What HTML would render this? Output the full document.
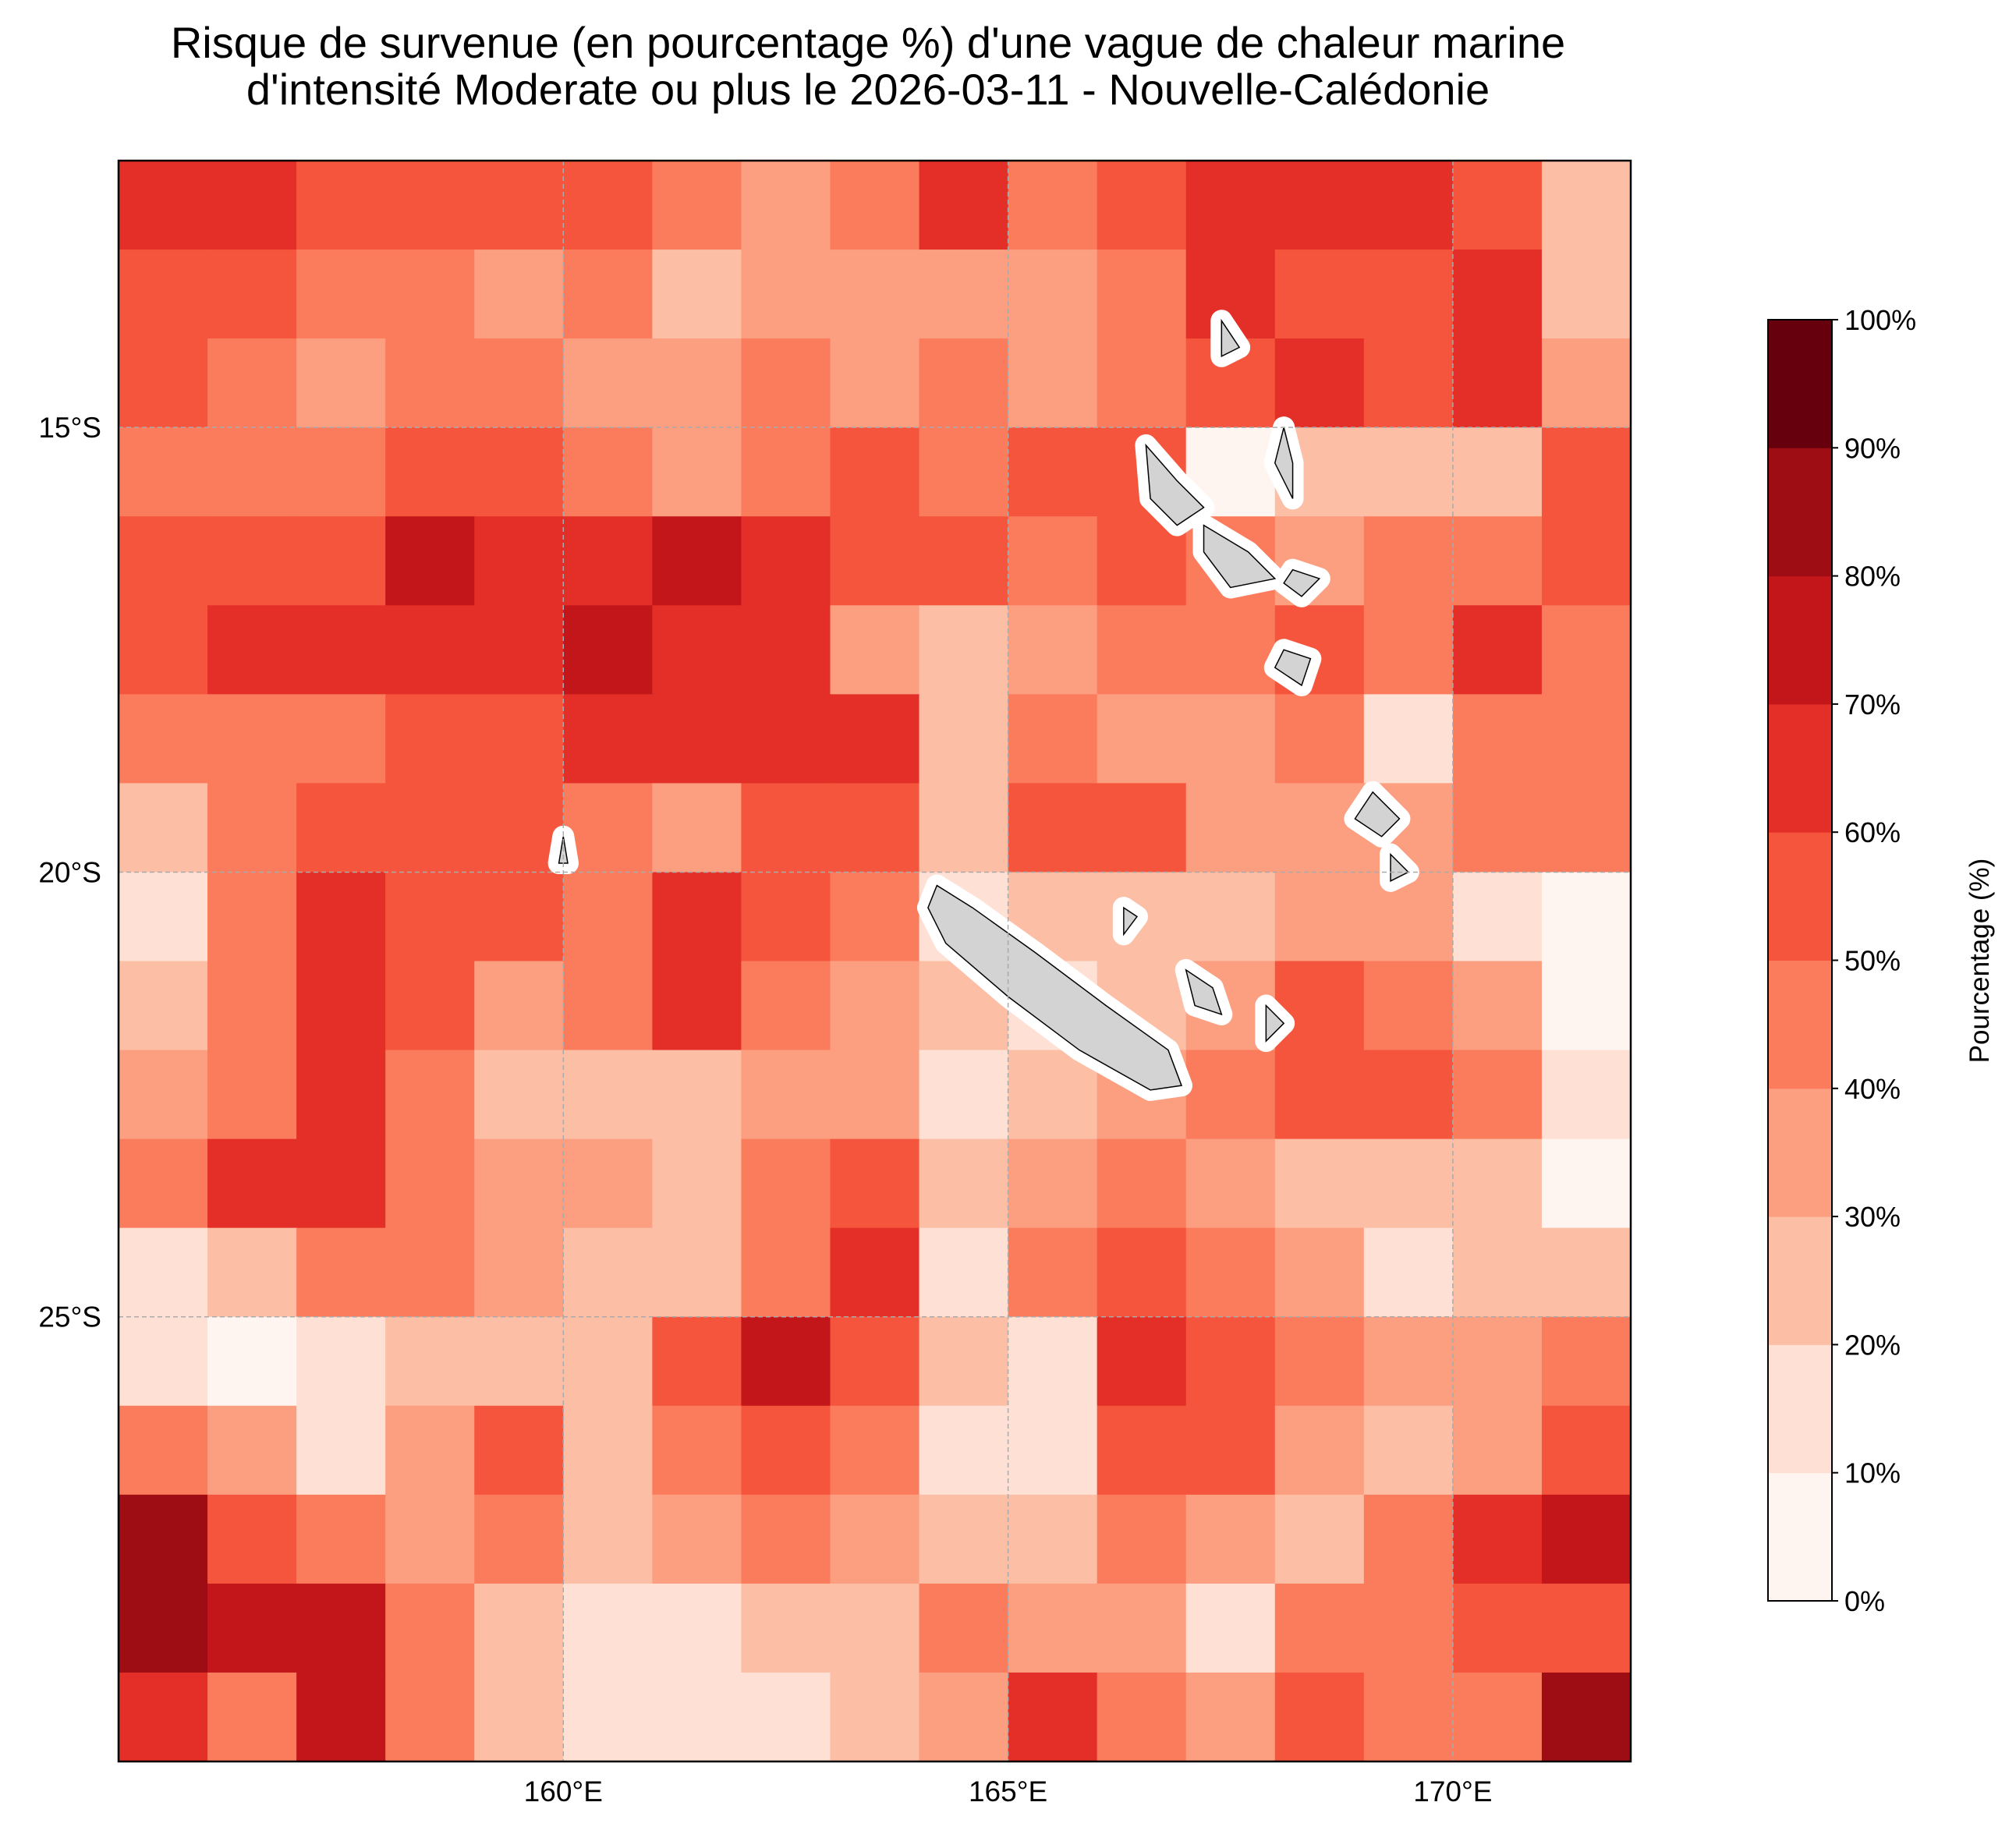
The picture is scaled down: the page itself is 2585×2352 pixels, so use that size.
<!DOCTYPE html>
<html><head><meta charset="utf-8"><style>
html,body{margin:0;padding:0;background:#fff;}
svg{display:block;font-family:"Liberation Sans","DejaVu Sans",sans-serif;}
</style></head><body>
<svg id="chart" width="2585" height="2352" viewBox="0 0 2585 2352">
<text x="1113" y="74" font-size="56" text-anchor="middle">Risque de survenue (en pourcentage %) d'une vague de chaleur marine</text>
<text x="1113" y="134" font-size="56" text-anchor="middle">d'intensité Moderate ou plus le 2026-03-11 - Nouvelle-Calédonie</text>
<g id="cells"></g>
<g id="land"></g>
<g id="grid"></g>
<rect x="152" y="206" width="1939" height="2053" fill="none" stroke="#000" stroke-width="2.5"/>
<g id="ticks"></g>
<g id="cbar"></g>
<text x="2550" y="1232" font-size="35" text-anchor="middle" transform="rotate(-90 2550 1232)">Pourcentage (%)</text>
</svg>
<script>
const lonMin=155, lonMax=172, latMin=12, latMax=30;
const lonTicks=[160,165,170];
const latTicks=[15,20,25];
const cbarTicks=[0,10,20,30,40,50,60,70,80,90,100];
const levelColors=["#fff5f0","#fee1d4","#fcbea5","#fc9e80","#fb7c5c","#f5553c","#e32f27","#c2161b","#9e0d14","#67000d"];
// risk percentages on 1-degree grid, rows from 12°S southward, cols from 155°E eastward
const riskRows=[
[65,60,55,50,55,55,45,35,40,60,45,55,60,65,65,55,20],
[55,55,45,40,35,40,25,30,35,35,35,45,60,55,55,65,20],
[50,45,35,40,45,30,35,40,35,40,35,40,55,60,55,60,30],
[45,40,40,55,50,40,35,45,50,45,50,55,5,25,20,25,55],
[50,55,55,70,65,60,70,60,55,55,45,55,45,35,45,40,50],
[55,60,60,65,65,70,65,60,35,25,30,40,45,55,45,65,40],
[45,45,40,50,55,60,60,60,65,25,40,35,35,45,15,40,45],
[20,40,55,55,50,45,35,50,50,25,50,55,30,30,30,40,45],
[15,40,60,55,55,45,60,55,40,10,25,25,20,35,35,10,0],
[20,40,65,50,35,40,60,45,35,20,10,25,30,50,40,30,0],
[35,45,60,40,25,20,25,35,30,15,20,35,40,50,50,45,15],
[40,60,60,45,35,30,25,45,55,20,30,40,35,20,25,20,5],
[15,25,40,45,35,25,20,40,60,15,45,50,40,30,15,25,20],
[10,5,15,25,25,20,55,70,55,20,15,60,55,40,30,35,40],
[40,35,15,30,50,25,45,55,40,10,10,55,50,30,20,35,55],
[80,55,40,35,45,20,30,45,30,25,25,40,35,25,40,60,70],
[80,70,70,40,25,10,15,25,25,40,35,30,15,40,45,55,55],
[60,40,75,40,20,10,10,15,25,35,60,45,35,55,45,40,80]
];
const X0=152,X1=2091,Y0=206,Y1=2259;
const xS=lon=>X0+(lon-lonMin)/(lonMax-lonMin)*(X1-X0);
const yS=lat=>Y0+(lat-latMin)/(latMax-latMin)*(Y1-Y0);
const NS="http://www.w3.org/2000/svg";
function mk(tag,attrs,parent){const e=document.createElementNS(NS,tag);for(const k in attrs)e.setAttribute(k,attrs[k]);parent.appendChild(e);return e;}
const cells=document.getElementById('cells');
riskRows.forEach((row,j)=>row.forEach((v,i)=>{
  const lvl=Math.min(9,Math.floor(v/10));
  const r=mk('rect',{x:xS(lonMin+i),y:yS(latMin+j),width:xS(lonMin+i+1)-xS(lonMin+i)+0.6,height:yS(latMin+j+1)-yS(latMin+j)+0.6,fill:levelColors[lvl]},cells);
  
  
}));
const land=document.getElementById('land');
const islands=[
 [[164.2,20.15],[164.6,20.4],[165.3,20.9],[166.1,21.5],[166.8,22.0],[166.95,22.4],[166.6,22.45],[165.8,22.0],[165.0,21.4],[164.3,20.8],[164.1,20.4]],
 [[166.55,15.2],[166.9,15.6],[167.2,15.9],[166.9,16.1],[166.6,15.8]],
 [[167.2,16.1],[167.7,16.4],[168.0,16.7],[167.5,16.8],[167.2,16.4]],
 [[168.1,15.0],[168.2,15.4],[168.2,15.8],[168.0,15.4]],
 [[168.2,16.6],[168.5,16.7],[168.3,16.9],[168.1,16.75]],
 [[167.4,13.8],[167.6,14.1],[167.4,14.2]],
 [[168.1,17.5],[168.4,17.6],[168.3,17.9],[168.0,17.7]],
 [[169.1,19.1],[169.4,19.4],[169.2,19.6],[168.9,19.4]],
 [[169.3,19.8],[169.5,20.0],[169.3,20.1]],
 [[167.0,21.1],[167.3,21.3],[167.4,21.6],[167.1,21.5]],
 [[167.9,21.5],[168.1,21.7],[167.9,21.9]],
 [[160.0,19.6],[160.05,19.9],[159.95,19.9]],
 [[166.3,20.4],[166.45,20.5],[166.3,20.7]]
];
islands.forEach(p=>{
  const pts=p.map(q=>xS(q[0])+','+yS(q[1])).join(' ');
  const h=mk('polygon',{points:pts,fill:'#fff',stroke:'#fff','stroke-width':28,'stroke-linejoin':'round'},land);
  
  
});
islands.forEach(p=>{
  const pts=p.map(q=>xS(q[0])+','+yS(q[1])).join(' ');
  const g=mk('polygon',{points:pts,fill:'#d3d3d3',stroke:'#000','stroke-width':1.5},land);
  
  
});
const grid=document.getElementById('grid'), ticks=document.getElementById('ticks');
lonTicks.forEach(l=>{
  const x=xS(l);
  const gl=mk('line',{x1:x,y1:Y0,x2:x,y2:Y1,stroke:'#aaa','stroke-width':1.5,'stroke-dasharray':'6,4'},grid);
  
  
  const t=mk('text',{x:x,y:2310,'font-size':37,'text-anchor':'middle'},ticks);
  t.textContent=l+'°E';
  
  
});
latTicks.forEach(l=>{
  const y=yS(l);
  const gl=mk('line',{x1:X0,y1:y,x2:X1,y2:y,stroke:'#aaa','stroke-width':1.5,'stroke-dasharray':'6,4'},grid);
  
  
  const t=mk('text',{x:130,y:y+13,'font-size':37,'text-anchor':'end'},ticks);
  t.textContent=l+'°S';
  
  
});
const cb=document.getElementById('cbar');
const CX=2267,CW=82,CT=410,CB=2053;
const cy=v=>CB-(v/100)*(CB-CT);
levelColors.forEach((c,i)=>{
  const r=mk('rect',{x:CX,y:cy((i+1)*10),width:CW,height:cy(i*10)-cy((i+1)*10)+0.5,fill:c},cb);
  
  
});
mk('rect',{x:CX,y:CT,width:CW,height:CB-CT,fill:'none',stroke:'#000','stroke-width':2},cb);
cbarTicks.forEach(v=>{
  mk('line',{x1:CX+CW,y1:cy(v),x2:CX+CW+8,y2:cy(v),stroke:'#000','stroke-width':2},cb);
  const t=mk('text',{x:CX+CW+16,y:cy(v)+13,'font-size':36},cb);
  t.textContent=v+'%';
  
  
});
</script>
</body></html>
